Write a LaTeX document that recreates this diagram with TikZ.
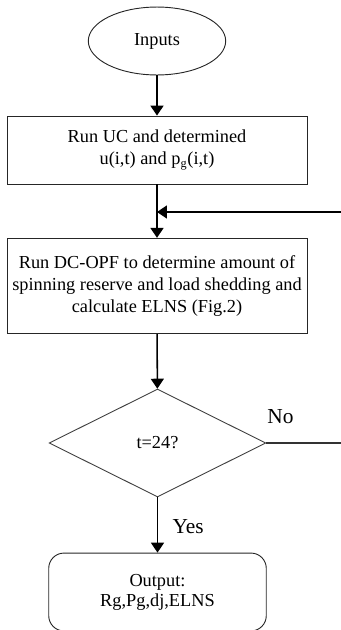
\documentclass[tikz,border=0pt]{standalone}
\usepackage{fontspec}
\setmainfont{Liberation Serif}
\usetikzlibrary{shapes.geometric, arrows.meta}

\tikzset{
    stepbox/.style={draw=black!85, line width=0.6pt, rectangle, minimum width=196.5pt, align=center, font=\fontsize{12}{14.2}\selectfont},
    startnode/.style={draw=black!85, line width=0.6pt, ellipse, minimum width=90pt, minimum height=44.5pt, font=\fontsize{12}{14.2}\selectfont},
    testnode/.style={draw=black!75, line width=0.6pt, diamond, minimum width=142pt, minimum height=70.7pt, inner sep=0pt, font=\fontsize{12}{14.2}\selectfont},
    endnode/.style={draw=black!85, line width=0.6pt, rectangle, rounded corners=10pt, minimum width=142.5pt, minimum height=51pt, align=center, font=\fontsize{12}{13}\selectfont},
    flow/.style={line width=1pt, -{Triangle[length=6.5pt, width=8.5pt]}},
    answer/.style={text=black, font=\fontsize{14}{16}\selectfont}
}

\begin{document}
\begin{tikzpicture}[x=0.655pt, y=-0.655pt]
    \useasboundingbox (0,0) rectangle (341,630);

    % Blocks
    \node[startnode] (inputs) at (157,41) {Inputs};
    \node[stepbox, minimum height=44.5pt] (uc) at (157,150) {Run UC and determined\\ u(i,t) and p\textsubscript{g}(i,t)};
    \node[stepbox, minimum height=62.5pt] (opf) at (157,286) {Run DC-OPF to determine amount of\\ spinning reserve and load shedding and\\ calculate ELNS (Fig.2)};
    \node[testnode] (check) at (157.5,443) {t=24?};
    \node[endnode] (output) at (157.5,592) {Output:\\ Rg,Pg,dj,ELNS};

    % Loop points
    \coordinate (merge) at (157,212);
    \coordinate (back) at (341,212);
    \coordinate (noend) at (341,443);

    % Connectors
    \draw[flow] (inputs) -- (uc);
    \draw[line width=1pt] (uc) -- (merge);
    \draw[flow] (merge) -- (opf);
    \draw[flow] (back) -- (merge);
    \draw[flow] (opf) -- (check);
    \draw[line width=1pt, black!80] (check.east) -- (noend)
        node[answer, pos=0.19, above, yshift=9pt] {No};
    \draw[flow] (check) -- (output)
        node[answer, midway, right, xshift=6pt, yshift=-1pt] {Yes};
\end{tikzpicture}
\end{document}
